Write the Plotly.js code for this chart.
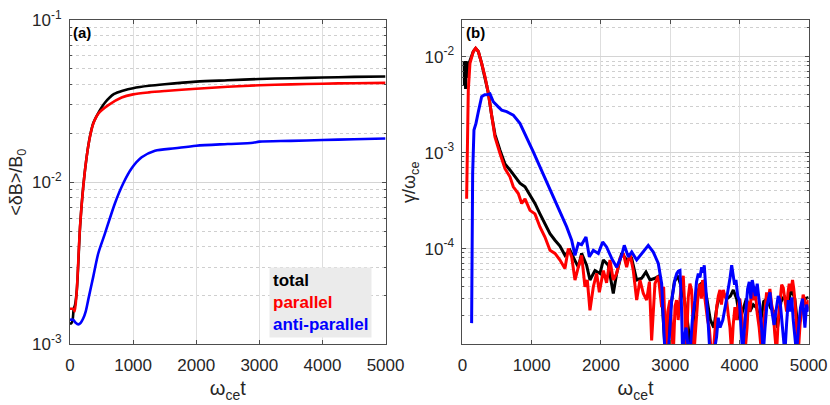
<!DOCTYPE html>
<html>
<head>
<meta charset="utf-8">
<script src="https://cdn.plot.ly/plotly-3.0.1.min.js"></script>
<style>
  html, body { margin: 0; padding: 0; background: #fff; }
  #chart { width: 830px; height: 405px; }
</style>
</head>
<body>
<div id="chart"></div>
<script>
// panel (a): wave amplitude <dB>/B0 against w_ce t
const amp_total_t = [0, 20, 40, 60, 80, 110, 160, 210, 265, 317, 370, 450, 550, 700, 850, 1000, 1250, 1500, 2000, 2500, 3000, 3500, 4000, 4500, 5000];
const amp_total = [1.35e-3, 1.35e-3, 1.4e-3, 1.66e-3, 1.75e-3, 2.2e-3, 5.3e-3, 9.4e-3, 0.0144, 0.0192, 0.0232, 0.0268, 0.0308, 0.0350, 0.0368, 0.0380, 0.0393, 0.0402, 0.0417, 0.0425, 0.0433, 0.0438, 0.0442, 0.0446, 0.0449];

const amp_parallel_t = [0, 30, 55, 75, 106, 159, 211, 265, 317, 370, 449, 608, 819, 1000, 1250, 1506, 2000, 2500, 3000, 3500, 4000, 4500, 5000];
const amp_parallel = [1.66e-3, 1.66e-3, 1.66e-3, 1.6e-3, 2.1e-3, 5.3e-3, 9.4e-3, 0.0144, 0.0191, 0.0230, 0.0265, 0.0299, 0.0333, 0.0348, 0.0358, 0.0365, 0.0377, 0.0388, 0.0396, 0.0401, 0.0405, 0.0408, 0.0410];

const amp_anti_t = [0, 50, 90, 132, 170, 211, 250, 290, 370, 449, 555, 713, 845, 978, 1136, 1347, 1664, 2000, 2500, 2900, 3000, 3500, 4000, 4500, 5000];
const amp_anti = [1.42e-3, 1.42e-3, 1.36e-3, 1.33e-3, 1.36e-3, 1.45e-3, 1.6e-3, 1.89e-3, 2.63e-3, 3.65e-3, 4.84e-3, 7.43e-3, 9.86e-3, 0.0122, 0.01425, 0.01565, 0.0162, 0.0168, 0.0172, 0.0175, 0.0178, 0.0180, 0.0182, 0.0184, 0.0186];

// panel (b): growth rate gamma/w_ce against w_ce t (values under 1e-5 fall off the axis)
const rate_total_t = [20, 27, 35, 45, 55, 65, 80, 108, 156, 190, 229, 277, 325, 373, 421, 469, 542, 614, 686, 758, 830, 903, 975, 1047, 1119, 1191, 1264, 1336, 1408, 1480, 1553, 1625, 1673, 1721, 1793, 1841, 1914, 1986, 2035, 2106, 2178, 2227, 2299, 2371, 2444, 2516, 2588, 2650, 2708, 2780, 2843, 2891, 2930, 2970, 3010, 3060, 3110, 3160, 3210, 3261, 3300, 3340, 3380, 3430, 3480, 3530, 3580, 3630, 3680, 3719, 3770, 3820, 3870, 3911, 3960, 4007, 4050, 4100, 4150, 4200, 4250, 4300, 4350, 4400, 4450, 4500, 4550, 4600, 4650, 4700, 4750, 4800, 4850, 4900, 4950, 5000];
const rate_total = [9e-3, 5e-3, 8.5e-3, 4.6e-3, 9e-3, 6e-3, 8e-3, 9e-3, 0.0113, 0.0122, 0.0113, 8.5e-3, 6.2e-3, 4.2e-3, 2.45e-3, 1.55e-3, 1.06e-3, 7.6e-4, 6.6e-4, 5.6e-4, 4.8e-4, 4.4e-4, 3.6e-4, 2.95e-4, 2.3e-4, 1.82e-4, 1.43e-4, 1.22e-4, 1.06e-4, 8.5e-5, 9.6e-5, 7.5e-5, 6.4e-5, 8.9e-5, 6.7e-5, 4.7e-5, 5.9e-5, 5.5e-5, 7.6e-5, 6.7e-5, 3.4e-5, 5.5e-5, 8.9e-5, 7.6e-5, 7.9e-5, 4.7e-5, 4.9e-5, 5.7e-5, 4.7e-5, 4.9e-5, 5.2e-5, 2.3e-5, 8e-6, 1.3e-5, 2.5e-5, 4.5e-5, 5.2e-5, 4.0e-5, 2.8e-5, 1.5e-5, 8e-6, 2.0e-5, 3.0e-5, 4.2e-5, 4.5e-5, 3.0e-5, 1.8e-5, 1.5e-5, 2.6e-5, 3.2e-5, 3.4e-5, 3.0e-5, 3.2e-5, 3.7e-5, 3.0e-5, 1.8e-5, 2.3e-5, 3.0e-5, 2.2e-5, 2.6e-5, 2.4e-5, 1.6e-5, 2.8e-5, 3.0e-5, 2.4e-5, 2.2e-5, 1.5e-5, 2.8e-5, 3.2e-5, 2.6e-5, 3.8e-5, 3.0e-5, 1.4e-5, 2.4e-5, 3.0e-5, 3.1e-5];

const rate_parallel_t = [60, 70, 84, 108, 156, 190, 229, 277, 325, 373, 421, 469, 542, 614, 686, 734, 806, 855, 903, 975, 1047, 1119, 1191, 1264, 1336, 1408, 1480, 1529, 1577, 1625, 1673, 1721, 1769, 1803, 1841, 1890, 1938, 1977, 2035, 2081, 2130, 2178, 2227, 2275, 2323, 2371, 2419, 2467, 2516, 2564, 2612, 2660, 2700, 2732, 2780, 2828, 2877, 2905, 2940, 2965, 2997, 3020, 3045, 3070, 3093, 3115, 3141, 3165, 3189, 3210, 3228, 3245, 3261, 3285, 3309, 3325, 3343, 3360, 3381, 3405, 3430, 3450, 3468, 3490, 3516, 3540, 3564, 3590, 3622, 3645, 3670, 3695, 3719, 3740, 3767, 3790, 3815, 3840, 3863, 3887, 3910, 3935, 3960, 3983, 4005, 4031, 4055, 4079, 4110, 4130, 4151, 4175, 4200, 4225, 4257, 4285, 4320, 4345, 4368, 4392, 4416, 4440, 4465, 4488, 4510, 4536, 4560, 4584, 4610, 4633, 4655, 4681, 4700, 4719, 4745, 4767, 4785, 4801, 4825, 4849, 4875, 4897, 4920, 4946, 4970, 5000];
const rate_parallel = [3.3e-4, 1.35e-3, 4.5e-3, 8.5e-3, 0.0113, 0.01225, 0.0113, 8.5e-3, 6.2e-3, 4.15e-3, 2.37e-3, 1.46e-3, 9.8e-4, 6.8e-4, 5.6e-4, 4.4e-4, 3.75e-4, 2.95e-4, 3.3e-4, 2.5e-4, 2.3e-4, 1.68e-4, 1.32e-4, 9.6e-5, 8.9e-5, 7.6e-5, 6.2e-5, 1.0e-4, 8.2e-5, 4.7e-5, 6.4e-5, 8.5e-5, 4.0e-5, 4.7e-5, 2.27e-5, 4.0e-5, 5.5e-5, 3.5e-5, 5.9e-5, 4.4e-5, 7.6e-5, 4.7e-5, 5.5e-5, 7.9e-5, 8.9e-5, 6.4e-5, 8.9e-5, 5.9e-5, 2.9e-5, 4.7e-5, 3.4e-5, 2.9e-5, 4.5e-5, 1.1e-5, 4.3e-5, 5.2e-5, 2.45e-5, 4.0e-5, 8e-6, 2.2e-5, 2.9e-5, 1.5e-5, 8e-6, 2.5e-5, 2.9e-5, 1.8e-5, 3.1e-5, 4.5e-5, 5.2e-5, 2.5e-5, 8e-6, 2.0e-5, 3.1e-5, 4.3e-5, 3.7e-5, 2.0e-5, 8e-6, 1.2e-5, 1.9e-5, 3.5e-5, 4.3e-5, 3.0e-5, 4.7e-5, 3.5e-5, 2.45e-5, 1.8e-5, 1.5e-5, 9e-6, 8e-6, 1.4e-5, 2.4e-5, 3.2e-5, 3.7e-5, 2.6e-5, 3.7e-5, 3.2e-5, 2.9e-5, 2.0e-5, 1.5e-5, 8e-6, 1.6e-5, 2.45e-5, 1.8e-5, 2.6e-5, 3.0e-5, 2.2e-5, 1.2e-5, 8e-6, 1.5e-5, 2.8e-5, 2.2e-5, 3.6e-5, 2.9e-5, 4.0e-5, 2.1e-5, 1.5e-5, 8e-6, 1.6e-5, 2.2e-5, 3.5e-5, 2.9e-5, 3.8e-5, 2.6e-5, 2.2e-5, 1.3e-5, 8e-6, 1.8e-5, 2.9e-5, 4.2e-5, 3.9e-5, 2.8e-5, 2.2e-5, 3.4e-5, 4.3e-5, 3.6e-5, 4.7e-5, 3.8e-5, 2.9e-5, 1.5e-5, 8e-6, 1.6e-5, 2.45e-5, 3.3e-5, 2.9e-5, 2.2e-5, 2.9e-5];

const rate_anti_t = [132, 147, 166, 195, 229, 277, 320, 349, 397, 445, 517, 566, 638, 734, 830, 927, 1023, 1119, 1216, 1312, 1408, 1505, 1577, 1625, 1673, 1721, 1784, 1832, 1890, 1962, 2025, 2081, 2155, 2227, 2299, 2337, 2395, 2444, 2516, 2588, 2683, 2756, 2828, 2877, 2900, 2925, 2973, 3000, 3020, 3045, 3070, 3095, 3117, 3141, 3160, 3180, 3205, 3230, 3255, 3285, 3320, 3357, 3380, 3406, 3430, 3454, 3475, 3492, 3510, 3526, 3550, 3574, 3630, 3670, 3694, 3720, 3760, 3800, 3839, 3865, 3888, 3910, 3930, 3950, 3975, 3998, 4020, 4046, 4070, 4094, 4118, 4142, 4165, 4185, 4200, 4230, 4257, 4275, 4296, 4320, 4344, 4370, 4395, 4416, 4441, 4470, 4500, 4536, 4560, 4586, 4610, 4635, 4656, 4680, 4705, 4730, 4755, 4777, 4800, 4825, 4850, 4883, 4910, 4930, 4946, 4970, 5000];
const rate_anti = [1.67e-5, 6.1e-4, 1.72e-3, 2.02e-3, 2.67e-3, 3.83e-3, 4.0e-3, 4.0e-3, 4.1e-3, 3.39e-3, 3.0e-3, 2.77e-3, 2.67e-3, 2.46e-3, 2.02e-3, 1.46e-3, 1.02e-3, 7.1e-4, 4.95e-4, 3.46e-4, 2.5e-4, 1.68e-4, 1.22e-4, 8.5e-5, 1.13e-4, 1.1e-4, 1.32e-4, 8.2e-5, 9.6e-5, 8.9e-5, 1.17e-4, 1.04e-4, 7.9e-5, 6.4e-5, 8.5e-5, 1.08e-4, 8.2e-5, 9.2e-5, 7.6e-5, 8.9e-5, 1.08e-4, 9.2e-5, 7.0e-5, 4.3e-5, 2.0e-5, 8e-6, 8e-6, 1.5e-5, 2.8e-5, 3.7e-5, 4.8e-5, 5.5e-5, 5.8e-5, 5.9e-5, 3.0e-5, 8e-6, 1.2e-5, 1.5e-5, 1e-5, 8e-6, 1.8e-5, 2.9e-5, 4.5e-5, 5.5e-5, 5.0e-5, 6.4e-5, 5.6e-5, 6.7e-5, 4.5e-5, 3.4e-5, 1.6e-5, 8e-6, 8e-6, 1.2e-5, 1.9e-5, 1.5e-5, 1.8e-5, 2.6e-5, 3.7e-5, 5.0e-5, 6.7e-5, 5.5e-5, 4.2e-5, 4.7e-5, 3.2e-5, 2.9e-5, 1.5e-5, 8e-6, 1.4e-5, 2.45e-5, 3.8e-5, 4.5e-5, 3.0e-5, 4.7e-5, 4.1e-5, 3.2e-5, 4.3e-5, 3.5e-5, 2.45e-5, 1.5e-5, 8e-6, 1.5e-5, 2.5e-5, 2.9e-5, 3.5e-5, 2.2e-5, 1.6e-5, 2.45e-5, 3.2e-5, 2.9e-5, 1.9e-5, 1.2e-5, 8e-6, 1.6e-5, 2.9e-5, 2.2e-5, 3.1e-5, 1.8e-5, 1.2e-5, 8e-6, 1.4e-5, 2.45e-5, 3.0e-5, 2.0e-5, 1.5e-5, 2.6e-5, 2.2e-5];

const x_ticks = [0, 1000, 2000, 3000, 4000, 5000];
const amp_ticks = [1e-3, 1e-2, 1e-1];
const amp_tick_text = ["10<sup>-3</sup>", "10<sup>-2</sup>", "10<sup>-1</sup>"];
const rate_ticks = [1e-4, 1e-3, 1e-2];
const rate_tick_text = ["10<sup>-4</sup>", "10<sup>-3</sup>", "10<sup>-2</sup>"];
const series_names = ["total", "parallel", "anti-parallel"];
const series_colors = ["#000000", "#ff0000", "#0000ff"];

class growth_figure {

    constructor(view) {
        this.view = view;
        this.font = "Liberation Sans, Arial, Helvetica, sans-serif";
    }

    minor_ticks(lo, hi) {
        // 2..9 x 10^k for each decade in [lo, hi)
        const vals = [];
        for (let e = lo; e < hi; e++)
            for (let m = 2; m <= 9; m++)
                vals.push(m * Math.pow(10, e));
        return vals;
    }

    line(x, y, i, xa, ya, smooth) {
        return {
            x: x, y: y, xaxis: xa, yaxis: ya,
            type: "scatter", mode: "lines",
            line: smooth ?
                { color: series_colors[i], width: 2.6, shape: "spline", smoothing: 0.8 } :
                { color: series_colors[i], width: 3 },
            name: series_names[i], showlegend: false, hoverinfo: "skip"
        };
    }

    build_traces() {
        return [
            this.line(amp_total_t, amp_total, 0, "x", "y", true),
            this.line(amp_parallel_t, amp_parallel, 1, "x", "y", true),
            this.line(amp_anti_t, amp_anti, 2, "x", "y", true),
            this.line(rate_total_t, rate_total, 0, "x2", "y2", false),
            this.line(rate_parallel_t, rate_parallel, 1, "x2", "y2", false),
            this.line(rate_anti_t, rate_anti, 2, "x2", "y2", false)
        ];
    }

    x_axis(domain, anchor) {
        return {
            domain: domain, anchor: anchor, range: [0, 5000],
            tickmode: "array", tickvals: x_ticks,
            ticks: "inside", ticklen: 4, tickcolor: "#4d4d4d",
            showline: true, mirror: "ticks", linecolor: "#4d4d4d", linewidth: 1,
            showgrid: true, gridcolor: "#dedede", zeroline: false,
            tickfont: { family: this.font, size: 17, color: "#262626" },
            ticklabelstandoff: 5,
            title: { text: "ω<sub>ce</sub>t", standoff: 7,
                     font: { family: this.font, size: 20, color: "#262626" } }
        };
    }

    y_axis(domain, anchor, range, ticks, text, title) {
        return {
            domain: domain, anchor: anchor, type: "log", range: range,
            tickmode: "array", tickvals: ticks, ticktext: text,
            ticks: "inside", ticklen: 4, tickcolor: "#4d4d4d",
            showline: true, mirror: "ticks", linecolor: "#4d4d4d", linewidth: 1,
            showgrid: true, gridcolor: "#d4d4d4", zeroline: false,
            minor: {
                tickmode: "array", tickvals: this.minor_ticks(Math.floor(range[0]), Math.ceil(range[1])),
                ticks: "inside", ticklen: 2, tickcolor: "#4d4d4d",
                showgrid: true, gridcolor: "#cfcfcf", griddash: "dot", gridwidth: 1
            },
            tickfont: { family: this.font, size: 17, color: "#262626" },
            ticklabelstandoff: 4,
            title: { text: title, standoff: 4,
                     font: { family: this.font, size: 18, color: "#262626" } }
        };
    }

    build_layout() {
        const y_dom = [0.1494, 0.9506];
        const legend_text =
            "<b>total</b><br>" +
            "<b><span style='color:#ff0000'>parallel</span></b><br>" +
            "<b><span style='color:#0000ff'>anti-parallel</span></b>";
        return {
            width: 830, height: 405,
            margin: { l: 0, r: 0, t: 0, b: 0, pad: 0 },
            paper_bgcolor: "#ffffff", plot_bgcolor: "#ffffff",
            font: { family: this.font, color: "#262626" },
            xaxis: this.x_axis([0.0843, 0.4645], "y"),
            yaxis: this.y_axis(y_dom, "x", [-3, -1], amp_ticks, amp_tick_text, "&lt;δB&gt;/B<sub>0</sub>"),
            xaxis2: this.x_axis([0.5572, 0.9743], "y2"),
            yaxis2: this.y_axis(y_dom, "x2", [-5, -1.618], rate_ticks, rate_tick_text, "γ/ω<sub>ce</sub>"),
            annotations: [
                { xref: "x domain", yref: "y domain", x: 0.004, y: 0.995,
                  xanchor: "left", yanchor: "top", showarrow: false,
                  text: "<b>(a)</b>", font: { size: 15, color: "#000000" } },
                { xref: "x2 domain", yref: "y2 domain", x: 0.004, y: 0.995,
                  xanchor: "left", yanchor: "top", showarrow: false,
                  text: "<b>(b)</b>", font: { size: 15, color: "#000000" } },
                { xref: "x domain", yref: "y domain", x: 0.957, y: 0.02,
                  xanchor: "right", yanchor: "bottom", showarrow: false, align: "left",
                  bgcolor: "#ebebeb", borderpad: 3,
                  text: legend_text, font: { size: 17, color: "#000000" } }
            ]
        };
    }

    render() {
        Plotly.newPlot(this.view, this.build_traces(), this.build_layout(),
            { displayModeBar: false, staticPlot: true });
    }
}

new growth_figure(document.getElementById("chart")).render();
</script>
</body>
</html>
